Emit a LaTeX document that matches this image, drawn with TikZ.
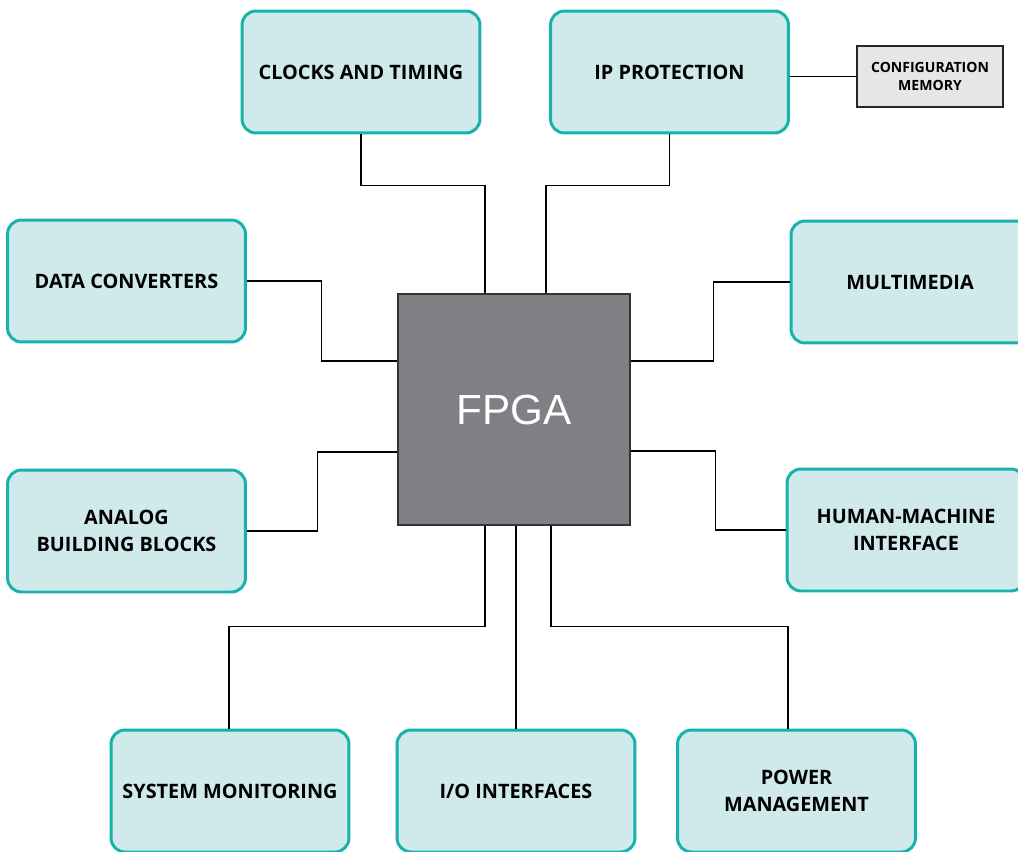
\documentclass[tikz,border=0pt]{standalone}
\usepackage{fontspec}
\setmainfont{Open Sans}
\newfontfamily\chipfont{Liberation Sans}
\usepackage{tikz}
\usetikzlibrary{calc}
\definecolor{tealline}{RGB}{22,178,171}
\definecolor{tealfill}{RGB}{208,234,235}
\definecolor{chipgray}{RGB}{127,128,132}
\definecolor{memgray}{RGB}{230,230,231}
\tikzset{
	block/.style={draw=tealline, fill=tealfill, line width=1.7pt, rounded corners=0.28cm,
		minimum width=4.76cm, minimum height=2.44cm, align=center,
		font=\fontsize{11.3}{15.3}\selectfont\bfseries},
	wire/.style={line width=1.1pt},
}
\begin{document}
\begin{tikzpicture}[x=0.02cm, y=-0.02cm]
		%%%%% START %%%%%
		\useasboundingbox (0, 0) rectangle (1018, 852);
		
		\node[draw=black!80, fill=chipgray, line width=0.6pt, minimum width=4.64cm, minimum height=4.62cm,
			text=white, font=\chipfont\fontsize{24}{28}\selectfont] (fpga) at (514, 409.5) {FPGA};
		
		\node[block] (clk) at (361, 72) {CLOCKS AND TIMING};
		\node[block] (ip) at (669.5, 72) {IP PROTECTION};
		\node[draw=black!85, fill=memgray, line width=0.6pt, minimum width=2.92cm, minimum height=1.22cm,
			align=center, font=\fontsize{8}{10.2}\selectfont\bfseries] (cfg) at (930, 76.5) {CONFIGURATION\\MEMORY};
		
		\node[block] (dc) at (126.5, 281) {DATA CONVERTERS};
		\node[block] (mm) at (910, 282) {MULTIMEDIA};
		\node[block] (an) at (126.5, 531) {ANALOG\\BUILDING BLOCKS};
		\node[block] (hmi) at (906, 530) {HUMAN-MACHINE\\INTERFACE};
		
		\node[block] (sm) at (230, 791) {SYSTEM MONITORING};
		\node[block] (io) at (516, 791) {I/O INTERFACES};
		\node[block] (pw) at (796.5, 791) {POWER\\MANAGEMENT};
		
		% top
		\draw[wire] (clk.south) |- ($(fpga.north)+(-29, -108)$) -- ($(fpga.north)+(-29, 0)$);
		\draw[wire] (ip.south) |- ($(fpga.north)+(32, -108)$) -- ($(fpga.north)+(32, 0)$);
		\draw[wire] (ip.east |- cfg.west) -- (cfg.west);
		
		% sides
		\draw[wire] (dc.east) -| ($(fpga.west)+(-76, -48.5)$) -- ($(fpga.west)+(0, -48.5)$);
		\draw[wire] (mm.west) -| ($(fpga.east)+(83, -48.5)$) -- ($(fpga.east)+(0, -48.5)$);
		\draw[wire] (an.east) -| ($(fpga.west)+(-80, 42.5)$) -- ($(fpga.west)+(0, 42.5)$);
		\draw[wire] (hmi.west) -| ($(fpga.east)+(85, 41.5)$) -- ($(fpga.east)+(0, 41.5)$);
		
		% bottom
		\draw[wire] ($(fpga.south)+(-29, 0)$) |- ($(sm.north)+(-1, -102)$) -- ($(sm.north)+(-1, 0)$);
		\draw[wire] (fpga.south -| io.north) -- (io.north);
		\draw[wire] ($(fpga.south)+(37, 0)$) |- ($(pw.north)+(-8.5, -102)$) -- ($(pw.north)+(-8.5, 0)$);
		%%%%% END %%%%%
	\end{tikzpicture}
\end{document}
